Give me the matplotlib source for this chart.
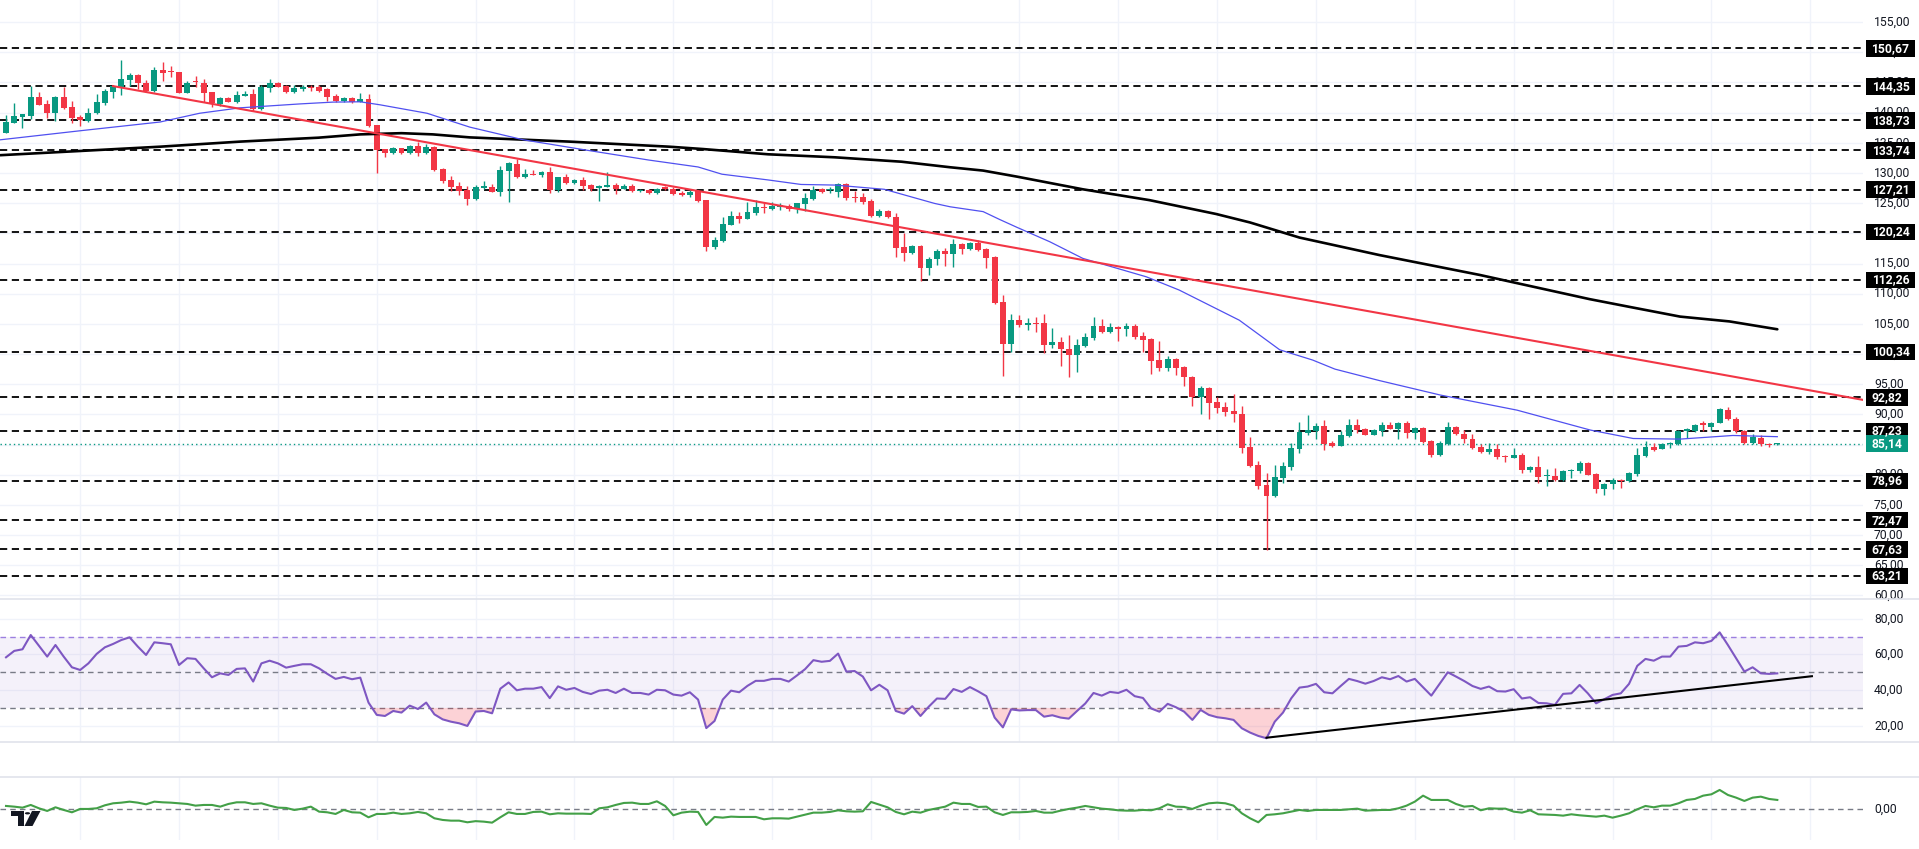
import numpy as np
import matplotlib
matplotlib.use('Agg')
import matplotlib.pyplot as plt
from matplotlib.patches import Rectangle, Polygon, Circle
from matplotlib.lines import Line2D
import matplotlib.transforms as mtransforms

plt.rcParams['font.family'] = ['Roboto', 'DejaVu Sans']
plt.rcParams['lines.scale_dashes'] = False

# ---------------- data ----------------
opens = [136.6,138.3,139.3,139.4,142.6,141.4,139.9,142.6,140.9,139.3,138.6,139.9,141.6,143.4,144.3,145.4,146.2,144.9,143.6,147.1,
146.9,146.7,143.3,145.2,144.9,143.4,141.4,142.4,141.8,142.8,143.1,140.6,144.1,144.9,144.4,143.4,143.9,144.3,144.3,143.9,
142.8,141.9,142.4,141.8,142.3,138.0,134.0,133.3,134.1,133.3,134.5,133.3,134.3,130.7,128.8,127.9,127.2,125.7,127.5,127.7,
126.9,130.3,131.5,129.3,129.8,129.7,130.2,127.2,129.3,128.4,128.9,128.0,127.5,127.7,128.0,127.4,127.9,127.0,127.2,126.7,
127.5,127.4,126.7,126.4,127.0,125.5,117.7,118.7,121.4,122.9,122.4,123.4,124.4,124.0,124.4,124.5,124.0,124.9,125.7,127.4,
127.2,126.9,128.2,126.0,126.0,125.4,122.9,123.7,122.7,117.7,116.7,117.9,114.3,115.8,117.1,116.6,118.2,117.4,118.4,117.4,
116.1,108.6,101.7,105.6,104.8,105.1,105.1,101.5,102.0,100.8,99.8,101.4,102.7,104.7,103.7,104.5,104.2,104.7,103.0,102.5,
99.0,97.7,99.2,97.9,96.2,92.9,94.4,92.1,91.2,90.6,90.1,84.6,81.6,78.3,76.5,79.5,81.3,84.3,86.9,87.3,
88.1,85.3,84.8,86.4,88.3,87.6,86.6,87.3,88.3,87.6,88.6,86.9,87.8,85.6,83.3,85.1,87.9,86.8,85.9,84.6,
83.8,84.3,83.1,82.8,83.3,80.8,81.3,79.8,79.8,79.1,80.6,80.6,82.0,80.1,77.6,78.5,79.1,79.0,80.1,83.1,
84.6,84.3,85.1,85.1,87.3,87.3,88.4,87.9,88.6,90.7,89.2,87.3,85.3,86.1,85.1,85.05]
highs = [139.6,141.6,139.8,144.4,143.4,142.1,142.8,144.3,141.9,139.6,140.8,143.1,143.9,144.6,148.7,146.6,146.4,145.4,147.6,148.4,
147.7,146.8,145.2,146.1,145.6,143.5,142.6,142.6,143.6,143.6,143.9,144.6,145.6,145.0,144.6,144.6,144.6,144.6,144.6,144.1,
143.1,142.6,142.6,143.3,143.1,138.0,134.0,134.3,134.2,134.6,135.1,134.8,134.4,130.8,129.5,128.5,127.9,128.0,128.7,128.2,
131.2,131.8,132.3,130.7,130.5,130.3,131.0,129.4,129.8,129.0,129.3,128.1,128.0,130.2,128.4,128.2,128.2,127.3,127.4,127.5,
127.9,127.7,127.0,127.4,127.2,125.6,119.4,122.7,123.7,123.5,125.2,125.5,125.0,125.2,125.0,124.9,125.1,126.7,127.9,127.5,
127.7,128.4,128.4,127.0,126.7,125.7,124.0,123.8,123.4,120.1,118.1,118.1,116.1,117.4,117.6,119.1,118.4,118.6,118.9,117.5,
116.3,109.8,106.6,106.5,106.0,106.1,106.6,104.3,102.8,103.2,102.5,103.5,106.1,105.8,105.1,104.7,105.1,105.0,103.7,102.6,
102.2,99.7,99.4,98.0,96.3,94.7,94.5,92.9,92.1,93.4,91.4,86.3,82.3,80.3,81.6,82.1,85.3,88.7,89.9,88.6,
89.1,85.6,87.3,89.2,89.2,87.7,87.6,88.8,88.8,88.7,88.9,87.9,87.9,85.7,85.6,88.8,88.1,87.4,86.8,85.1,
85.3,85.1,83.3,84.4,83.6,81.5,83.1,81.0,81.1,80.8,81.0,82.3,82.1,80.3,78.6,79.5,79.3,80.5,84.4,85.6,
85.3,85.3,85.4,87.4,87.8,88.4,88.9,88.8,91.1,91.2,89.6,87.4,86.8,86.6,85.3,85.3]
lows = [136.6,138.3,137.5,139.0,141.3,139.1,138.6,140.6,138.3,137.8,138.5,139.8,141.3,142.4,142.9,144.4,143.9,143.4,143.4,145.2,
145.9,143.2,143.2,144.3,141.8,140.9,141.1,141.7,141.6,142.7,140.3,140.5,143.4,144.2,143.3,143.3,143.6,143.6,143.5,141.9,
141.8,141.8,141.6,141.7,137.7,130.0,132.7,133.2,133.2,133.2,132.8,133.1,130.4,128.3,127.0,126.4,124.7,125.5,127.4,126.8,
126.2,125.2,129.2,129.2,129.6,129.3,126.7,126.9,128.2,128.2,127.2,127.0,125.4,127.6,126.5,127.3,126.9,126.9,126.6,126.6,
127.2,126.4,126.2,126.0,125.2,117.1,117.4,118.6,121.3,121.7,122.3,123.0,123.4,123.9,123.9,123.7,123.4,123.7,125.6,126.7,
126.7,126.0,125.5,125.2,124.9,122.7,122.7,122.6,116.1,115.4,116.6,112.1,113.1,114.8,114.6,114.4,116.6,117.3,117.1,114.3,
108.3,96.4,100.3,104.5,104.0,103.7,100.2,101.0,98.0,96.2,97.0,101.2,102.3,103.5,103.5,102.2,103.0,102.5,100.3,96.7,
97.2,97.2,96.5,94.7,91.4,90.1,89.2,90.2,89.7,88.8,83.6,81.3,77.6,67.5,76.3,78.6,80.8,83.6,86.6,85.9,
84.1,84.6,84.7,86.3,86.9,86.5,86.5,86.4,87.5,85.9,86.1,85.9,85.3,82.9,83.1,84.9,86.6,85.3,84.3,83.6,
83.4,82.6,82.1,82.7,80.3,80.5,78.6,78.1,79.0,79.0,79.5,80.3,79.9,77.0,76.6,77.6,77.8,78.8,79.8,82.9,
84.0,84.2,84.4,85.0,86.1,87.1,87.3,87.3,88.5,89.1,86.9,85.1,85.1,84.8,84.6,85.0]
closes = [138.5,139.4,139.8,142.6,141.3,139.9,142.6,140.8,139.1,138.8,139.9,141.8,143.6,144.4,145.6,146.2,144.9,143.6,147.1,146.6,
146.7,143.3,144.9,145.1,143.3,141.6,142.4,141.8,142.9,143.1,140.6,144.3,144.9,144.3,143.4,144.1,144.3,144.1,143.6,142.6,
141.9,142.4,141.8,142.3,137.8,133.8,133.3,134.1,133.3,134.5,133.3,134.3,130.5,128.7,127.7,127.0,125.7,127.7,127.9,126.9,
130.5,131.7,129.3,129.8,129.7,130.2,127.2,129.3,128.4,128.9,127.9,127.4,127.9,128.0,127.4,127.9,127.0,127.2,126.7,127.4,
127.4,126.5,126.4,126.9,125.4,117.7,118.9,121.6,122.9,122.4,123.5,124.4,124.2,124.5,124.7,124.0,125.0,125.9,127.2,126.9,
127.4,128.2,125.9,125.9,125.2,122.9,123.7,122.7,117.6,116.7,117.9,114.3,115.8,117.1,116.6,118.2,117.4,118.4,117.2,115.9,
108.5,101.7,105.6,104.8,105.1,105.0,101.5,102.0,100.8,99.8,101.5,102.8,104.7,103.7,104.5,104.2,104.7,102.8,102.3,98.9,
97.7,99.2,97.7,96.2,92.9,94.4,91.9,91.1,90.4,90.1,84.4,81.4,78.2,76.5,79.6,81.5,84.4,87.1,87.4,88.1,
85.1,84.8,86.6,88.3,87.4,86.6,87.4,88.3,87.6,88.6,86.9,87.8,85.4,83.3,85.3,87.9,86.8,85.9,84.4,83.8,
84.3,82.9,82.9,83.3,80.8,81.3,79.6,80.0,79.1,80.6,80.8,82.0,80.0,77.6,78.5,79.1,79.0,80.3,83.3,84.6,
84.1,85.1,85.3,87.3,87.4,88.3,88.3,88.6,90.9,89.2,87.3,85.3,86.3,85.1,84.9,85.14]

rsi = [58.4,62.0,62.9,70.9,64.8,58.8,65.3,58.8,52.8,51.3,55.0,60.3,64.0,65.9,68.1,69.6,64.4,59.7,66.8,66.3,
65.7,54.1,57.9,57.5,52.2,47.2,49.4,48.5,51.9,52.2,44.8,55.0,56.5,55.0,52.6,53.6,54.5,54.5,52.2,49.1,
46.3,47.4,46.1,47.0,33.0,26.1,25.5,28.3,27.4,31.3,29.4,33.0,26.4,23.6,22.3,21.4,19.9,28.0,28.3,27.0,
40.8,44.3,39.9,40.8,40.8,41.7,35.5,42.1,40.2,41.2,39.0,37.8,39.7,40.2,38.4,40.8,38.4,38.4,37.5,40.2,
39.9,37.5,36.9,38.8,34.7,18.7,22.7,34.7,39.7,38.8,42.4,45.2,45.2,46.3,46.3,44.8,48.2,51.8,56.8,55.9,
56.4,60.5,50.4,50.7,47.6,39.9,43.0,39.9,28.3,26.8,31.0,25.5,30.7,35.3,35.1,40.6,39.0,41.7,39.3,36.6,
24.6,19.1,29.2,28.6,28.8,28.8,25.1,25.9,24.6,24.0,28.3,32.5,38.4,36.9,39.0,38.4,40.2,36.6,35.6,29.7,
27.9,32.3,30.4,27.9,23.3,28.9,26.1,24.8,24.2,23.3,18.6,16.2,14.3,13.0,22.3,27.4,35.4,41.4,42.0,43.5,
38.8,38.2,42.3,46.3,45.1,43.6,45.1,47.2,46.1,47.9,44.8,46.3,41.6,36.9,43.5,50.0,47.6,45.1,42.3,40.7,
42.0,39.4,39.2,40.5,35.3,36.0,32.8,32.6,31.7,37.9,38.2,42.9,38.2,32.6,34.9,37.3,38.2,43.5,53.6,57.5,
56.5,58.8,58.8,64.4,64.8,66.8,66.3,67.6,72.4,65.3,57.9,50.4,52.8,49.4,49.1,49.4]

osc = [0.67,0.53,0.33,0.87,0.20,-0.33,0.40,-0.13,-0.60,0.07,0.07,0.20,0.80,1.20,1.33,1.53,1.33,1.00,1.53,1.40,
1.33,1.20,1.07,0.73,0.87,0.87,0.53,1.07,1.40,1.40,1.07,1.20,0.73,0.33,0.27,-0.13,0.13,0.53,-0.47,-0.60,
-0.93,-0.13,-0.60,-0.67,-1.60,-0.93,-0.93,-0.67,-0.93,-0.80,-0.53,-0.80,-1.80,-2.13,-2.27,-2.27,-2.60,-2.37,-2.47,-2.67,
-1.60,-0.60,-0.93,-0.93,-0.53,-0.47,-1.00,-0.80,-0.87,-0.87,-0.87,-0.93,0.20,0.40,0.87,1.27,1.33,1.07,1.07,1.60,
0.67,-1.20,-0.67,-0.47,-0.53,-3.13,-1.53,-1.67,-1.47,-1.53,-1.53,-1.53,-2.00,-1.80,-1.80,-1.87,-1.47,-1.07,-0.67,-0.67,
-0.53,-0.20,-0.40,-0.47,-0.40,1.47,0.93,0.40,-0.53,-1.00,-0.47,-0.67,-0.13,0.20,0.53,1.33,1.07,1.07,0.47,0.53,
-0.60,-1.13,-0.60,-0.60,-0.53,-0.33,-0.67,-0.67,-0.27,0.07,0.33,0.67,0.40,0.13,0.00,-0.20,-0.27,-0.27,-0.13,-0.20,
0.20,1.00,0.53,0.47,0.07,0.73,1.20,1.33,1.20,0.73,-0.80,-1.80,-2.60,-1.13,-1.00,-0.80,-0.47,-0.13,-0.33,-0.13,
-0.13,-0.13,-0.13,0.00,0.13,-0.27,-0.20,-0.13,-0.13,0.20,0.73,1.53,2.73,1.87,1.87,1.87,1.07,0.53,0.67,-0.20,
0.20,0.13,0.13,-0.47,-0.67,-0.20,-1.00,-1.07,-1.13,-1.27,-1.00,-1.20,-1.33,-1.47,-1.27,-1.67,-1.27,-0.80,0.00,0.67,
0.40,0.73,0.73,1.20,1.87,2.07,2.73,3.00,3.87,2.87,2.33,1.67,2.33,2.53,2.07,1.87]

ma50_x = [-0.7,9,18.7,23.5,28.4,35.7,39.7,43,45.4,51.1,56.3,62.8,70.4,78,84,86.9,92.5,96.5,100.6,106.6,
          112.7,114.6,118.6,120.6,122.7,126.7,130.7,138.4,142.4,149.7,154.6,158.6,161.3,166.7,174.1,183.4,192.3,197.5,203.2,209.6,215]
ma50_y = [135.5,137.0,138.45,139.9,140.8,141.45,141.75,141.8,141.3,139.9,137.6,135.5,133.8,132.15,131.0,129.8,128.85,128.1,128.0,127.3,
          124.96,124.4,123.6,122.3,121.0,118.6,115.85,112.8,110.6,105.6,100.7,99.0,97.5,95.6,93.2,90.7,87.4,86.0,85.9,86.5,86.3]
ma200_x = [-0.7,9,18.7,28.4,37.9,43,48,51.8,56.3,68.4,80.5,84.6,92.5,100.6,108.7,114.6,118.6,122.7,130.7,138.8,
           146.9,151,157,166.7,178.9,192.2,197.1,203.2,209.2,215]
ma200_y = [132.95,133.65,134.36,135.2,135.85,136.4,136.6,136.4,135.9,135.2,134.36,133.97,133.1,132.6,131.87,130.95,130.4,129.4,127.3,125.5,
           123.2,121.8,119.3,116.4,113.1,109.1,107.8,106.2,105.4,104.1]

levels = [150.67, 144.35, 138.73, 133.74, 127.21, 120.24, 112.26, 100.34, 92.82, 87.23, 78.96, 72.47, 67.63, 63.21]
last_price = 85.14
trend_x = [13, 225.4]
trend_y = [144.4, 92.4]
rsi_trend_x = [153, 219.2]
rsi_trend_y = [13.3, 47.8]
price_ticks = list(range(60, 156, 5))
rsi_ticks = [80, 60, 40, 20]
time_grid = [9, 21, 33, 45, 57, 69, 81, 93, 105, 123, 135, 147, 159, 171, 183, 195, 207, 219]

# ---------------- layout ----------------
W, H = 1919, 849
RIGHT = 1863
fig = plt.figure(figsize=(W / 100, H / 100), dpi=100)
fig.patch.set_facecolor('white')

def axpos(top, bottom):
    return [0, 1 - bottom / H, RIGHT / W, (bottom - top) / H]

ax = fig.add_axes(axpos(0, 599))
ax_rsi = fig.add_axes(axpos(599, 742))
ax_osc = fig.add_axes(axpos(777, 840))

XLIM = (-0.73, 225.4)
GRID = '#f0f3fa'
TXT = '#131722'
FS = 8.7
for a in (ax, ax_rsi, ax_osc):
    a.set_xlim(*XLIM)
    a.set_xticks([])
    a.set_yticks([])
    for s in a.spines.values():
        s.set_visible(False)
    a.set_facecolor('none')
    for g in time_grid:
        a.axvline(g, color=GRID, lw=1, zorder=0)

ax.set_ylim(59.40, 158.67)
ax_rsi.set_ylim(10.9, 91.1)
ax_osc.set_ylim(-6.14, 6.46)

px = 1.0 / RIGHT   # axes fraction per pixel
LBL_X = 1874 * px

# ---------------- main panel ----------------
for t in price_ticks:
    ax.axhline(t, color=GRID, lw=1, zorder=0)

for lv in levels:
    ax.axhline(lv, color='black', lw=1.3, dashes=(5.2, 3.3), zorder=2)

ax.axhline(last_price, color='#089981', lw=1, linestyle=(0, (1, 2.2)), zorder=2)

o = np.array(opens); h = np.array(highs); l = np.array(lows); c = np.array(closes)
x = np.arange(len(o))
up = c >= o
cols = np.where(up, '#089981', '#f23645')
ax.vlines(x, l, h, colors=cols, linewidth=1.0, zorder=3)
body_lo = np.minimum(o, c)
body_h = np.maximum(np.abs(c - o), 0.2)
ax.bar(x, body_h, bottom=body_lo, width=0.72, color=cols, linewidth=0, zorder=4)

ax.plot(ma200_x, ma200_y, color='black', lw=1.9, zorder=5, solid_capstyle='round')
ax.plot(ma50_x, ma50_y, color='#5050f0', lw=0.9, zorder=5)
ax.plot(trend_x, trend_y, color='#f23645', lw=1.5, zorder=6)

blend = mtransforms.blended_transform_factory(ax.transAxes, ax.transData)
for t in price_ticks:
    ax.text(LBL_X, t, f'{t:.2f}'.replace('.', ','), transform=blend, ha='left', va='center',
            fontsize=FS, color=TXT, clip_on=False, zorder=3)

PPU = 6.034  # pixels per price unit
def price_label(val, fc):
    s = f'{val:.2f}'.replace('.', ',')
    w = 7 + 7 * len(s)
    hh = 16.7 / PPU
    ax.add_patch(Rectangle((1866 * px, val - hh / 2), w * px, hh, transform=blend,
                           facecolor=fc, edgecolor='none', clip_on=False, zorder=10))
    ax.text((1866 + w / 2) * px, val, s, transform=blend, ha='center', va='center',
            fontsize=FS, color='white', fontweight='bold', clip_on=False, zorder=11)

for lv in levels:
    price_label(lv, 'black')
price_label(last_price, '#089981')

# ---------------- RSI panel ----------------
for t in rsi_ticks:
    ax_rsi.axhline(t, color=GRID, lw=1, zorder=0)
ax_rsi.axhspan(30, 70, color='#7e57c2', alpha=0.08, lw=0, zorder=1)
ax_rsi.axhline(70, color='#9c7fe0', lw=1, dashes=(4, 3), zorder=2)
ax_rsi.axhline(50, color='#787b86', lw=1, dashes=(4, 3), zorder=2)
ax_rsi.axhline(30, color='#787b86', lw=1, dashes=(4, 3), zorder=2)
r = np.array(rsi)
xr = np.arange(len(r))
ax_rsi.fill_between(xr, r, 30, where=r < 30, interpolate=True, color='#f23645', alpha=0.22, lw=0, zorder=2)
ax_rsi.fill_between(xr, r, 70, where=r > 70, interpolate=True, color='#089981', alpha=0.22, lw=0, zorder=2)
ax_rsi.plot(xr, r, color='#7e57c2', lw=1.5, zorder=4)
ax_rsi.plot(rsi_trend_x, rsi_trend_y, color='black', lw=1.5, zorder=5)
blend_r = mtransforms.blended_transform_factory(ax_rsi.transAxes, ax_rsi.transData)
for t in rsi_ticks:
    ax_rsi.text(LBL_X, t, f'{t:.2f}'.replace('.', ','), transform=blend_r, ha='left', va='center',
                fontsize=FS, color=TXT, clip_on=False)

# ---------------- oscillator panel ----------------
ax_osc.axhline(0, color='#787b86', lw=1, dashes=(4, 3), zorder=2)
ax_osc.plot(np.arange(len(osc)), osc, color='#43a047', lw=1.5, zorder=4)
blend_o = mtransforms.blended_transform_factory(ax_osc.transAxes, ax_osc.transData)
ax_osc.text(LBL_X, 0, '0,00', transform=blend_o, ha='left', va='center',
            fontsize=FS, color=TXT, clip_on=False)

# ---------------- separators ----------------
for yy in (599, 742, 777):
    fig.add_artist(Line2D([0, 1], [1 - yy / H, 1 - yy / H], transform=fig.transFigure,
                          color='#e0e3eb', lw=1.2))

# ---------------- logo ----------------
def fp(xp, yp):
    return (xp / W, 1 - yp / H)

fig.add_artist(Polygon([fp(11, 811), fp(24, 811), fp(24, 826), fp(17.5, 826), fp(17.5, 816), fp(11, 816)],
                       closed=True, transform=fig.transFigure, facecolor='#131722', edgecolor='none'))
fig.add_artist(Circle(fp(27.5, 813.3), 2.6 / W, transform=fig.transFigure, facecolor='#131722', edgecolor='none'))
fig.add_artist(Polygon([fp(32, 811), fp(40.5, 811), fp(32.5, 826), fp(24.5, 826)],
                       closed=True, transform=fig.transFigure, facecolor='#131722', edgecolor='none'))

fig.savefig('out.png', dpi=100, facecolor='white')
